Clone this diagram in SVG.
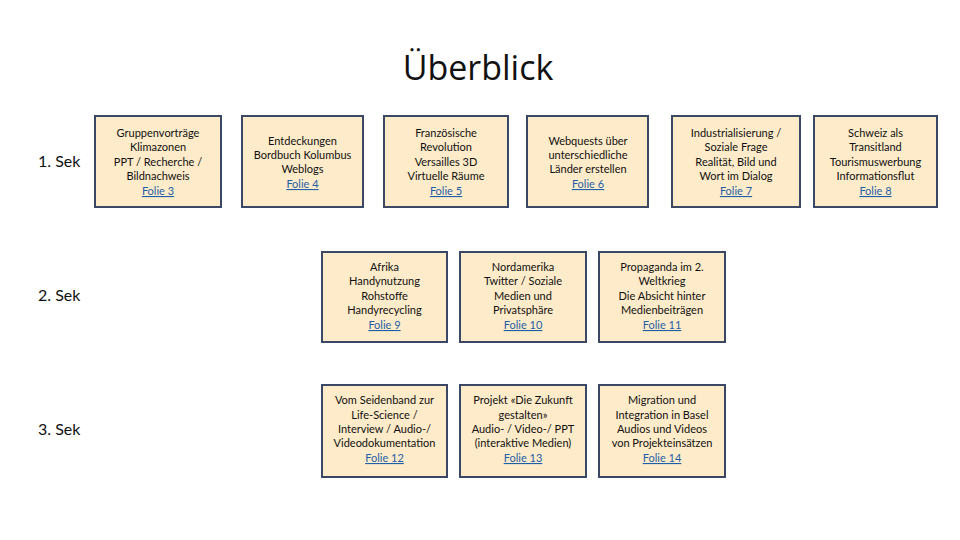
<svg xmlns="http://www.w3.org/2000/svg" width="960" height="540" viewBox="0 0 960 540">
<style>
.box{fill:#FDEBC9;stroke:#3A4866;stroke-width:2}
.t{font-family:Lato,"Liberation Sans",sans-serif;font-size:11px;fill:#111;text-anchor:middle}
.l{fill:#1F5FA8;text-decoration:underline}
.sek{font-family:Lato,"Liberation Sans",sans-serif;font-size:16px;fill:#111}
.title{font-family:"Open Sans","Liberation Sans",sans-serif;font-size:34px;fill:#111;text-anchor:middle}
</style>
<rect width="960" height="540" fill="#fff"/>
<text class="title" x="478" y="80">Überblick</text>
<text class="sek" x="38" y="167">1. Sek</text>
<text class="sek" x="38" y="301">2. Sek</text>
<text class="sek" x="38" y="435">3. Sek</text>
<g id="connectors"/>
<g id="n1"><rect class="box" x="95" y="116" width="126" height="91"/>
<text class="t" x="158" y="137">Gruppenvorträge</text><text class="t" x="158" y="151">Klimazonen</text><text class="t" x="158" y="166">PPT / Recherche /</text><text class="t" x="158" y="180">Bildnachweis</text><text class="t l" x="158" y="195">Folie 3</text></g>
<g id="n2"><rect class="box" x="242" y="116" width="121" height="91"/>
<text class="t" x="302.500" y="145">Entdeckungen</text><text class="t" x="302.500" y="159">Bordbuch Kolumbus</text><text class="t" x="302.500" y="173">Weblogs</text><text class="t l" x="302.500" y="188">Folie 4</text></g>
<g id="n3"><rect class="box" x="384" y="116" width="124" height="91"/>
<text class="t" x="446" y="137">Französische</text><text class="t" x="446" y="151">Revolution</text><text class="t" x="446" y="166">Versailles 3D</text><text class="t" x="446" y="180">Virtuelle Räume</text><text class="t l" x="446" y="195">Folie 5</text></g>
<g id="n4"><rect class="box" x="527" y="116" width="121" height="91"/>
<text class="t" x="588" y="145">Webquests über</text><text class="t" x="588" y="159">unterschiedliche</text><text class="t" x="588" y="173">Länder erstellen</text><text class="t l" x="588" y="188">Folie 6</text></g>
<g id="n5"><rect class="box" x="672" y="116" width="128" height="91"/>
<text class="t" x="736" y="137">Industrialisierung /</text><text class="t" x="736" y="151">Soziale Frage</text><text class="t" x="736" y="166">Realität, Bild und</text><text class="t" x="736" y="180">Wort im Dialog</text><text class="t l" x="736" y="195">Folie 7</text></g>
<g id="n6"><rect class="box" x="814" y="116" width="123" height="91"/>
<text class="t" x="875.500" y="137">Schweiz als</text><text class="t" x="875.500" y="151">Transitland</text><text class="t" x="875.500" y="166">Tourismuswerbung</text><text class="t" x="875.500" y="180">Informationsflut</text><text class="t l" x="875.500" y="195">Folie 8</text></g>
<g id="n7"><rect class="box" x="322" y="252" width="125" height="90"/>
<text class="t" x="384.500" y="271">Afrika</text><text class="t" x="384.500" y="285">Handynutzung</text><text class="t" x="384.500" y="300">Rohstoffe</text><text class="t" x="384.500" y="314">Handyrecycling</text><text class="t l" x="384.500" y="329">Folie 9</text></g>
<g id="n8"><rect class="box" x="460" y="252" width="126" height="90"/>
<text class="t" x="523" y="271">Nordamerika</text><text class="t" x="523" y="285">Twitter / Soziale</text><text class="t" x="523" y="300">Medien und</text><text class="t" x="523" y="314">Privatsphäre</text><text class="t l" x="523" y="329">Folie 10</text></g>
<g id="n9"><rect class="box" x="599" y="252" width="126" height="90"/>
<text class="t" x="662" y="271">Propaganda im 2.</text><text class="t" x="662" y="285">Weltkrieg</text><text class="t" x="662" y="300">Die Absicht hinter</text><text class="t" x="662" y="314">Medienbeiträgen</text><text class="t l" x="662" y="329">Folie 11</text></g>
<g id="n10"><rect class="box" x="322" y="385" width="125" height="92"/>
<text class="t" x="384.500" y="404">Vom Seidenband zur</text><text class="t" x="384.500" y="419">Life-Science /</text><text class="t" x="384.500" y="433">Interview / Audio-/</text><text class="t" x="384.500" y="447">Videodokumentation</text><text class="t l" x="384.500" y="462">Folie 12</text></g>
<g id="n11"><rect class="box" x="460" y="385" width="126" height="92"/>
<text class="t" x="523" y="404">Projekt «Die Zukunft</text><text class="t" x="523" y="419">gestalten»</text><text class="t" x="523" y="433">Audio- / Video-/ PPT</text><text class="t" x="523" y="447">(interaktive Medien)</text><text class="t l" x="523" y="462">Folie 13</text></g>
<g id="n12"><rect class="box" x="599" y="385" width="126" height="92"/>
<text class="t" x="662" y="404">Migration und</text><text class="t" x="662" y="419">Integration in Basel</text><text class="t" x="662" y="433">Audios und Videos</text><text class="t" x="662" y="447">von Projekteinsätzen</text><text class="t l" x="662" y="462">Folie 14</text></g>
</svg>
